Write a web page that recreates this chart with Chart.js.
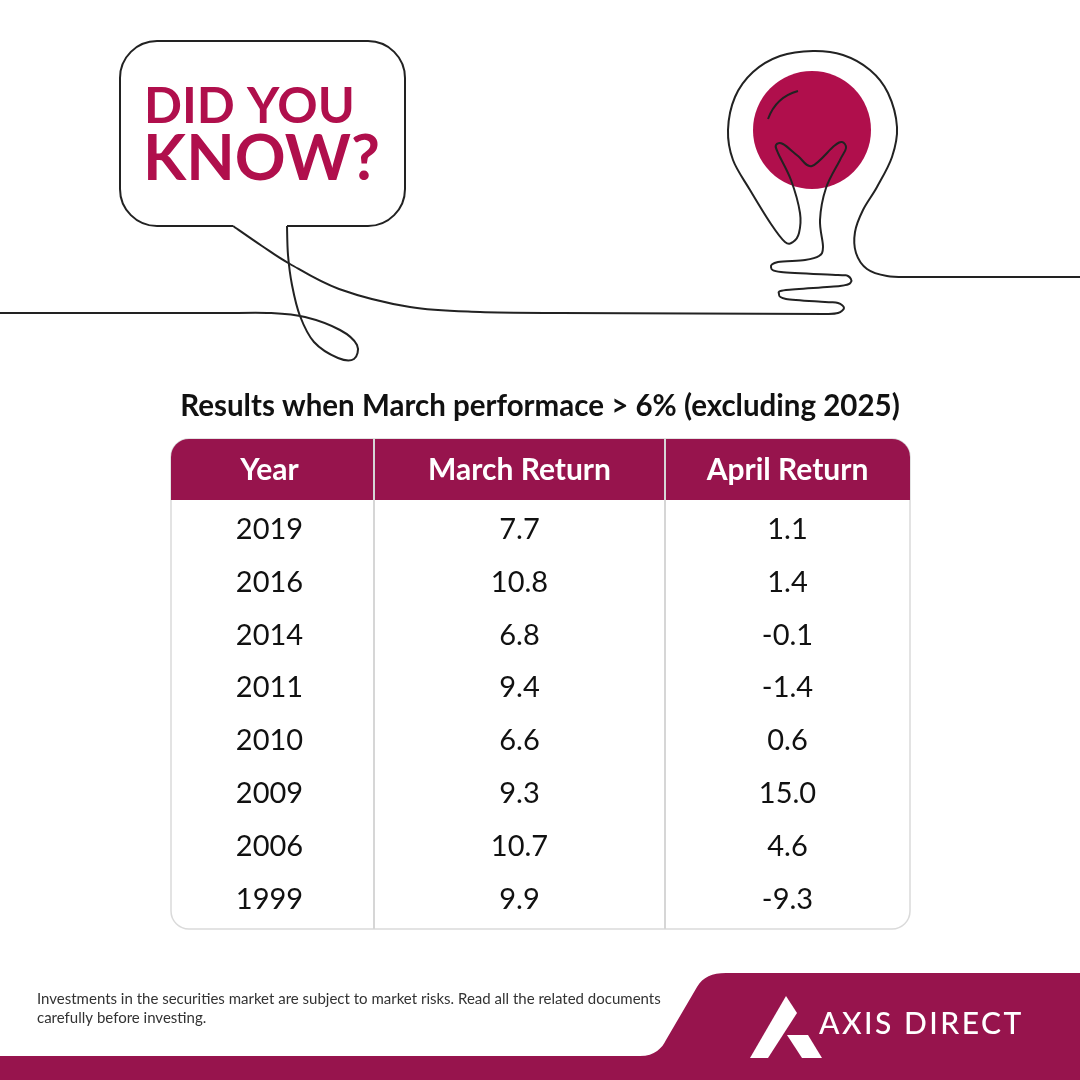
<!DOCTYPE html>
<html lang="en">
<head>
    <meta charset="UTF-8">
    <title>Did You Know - March vs April Returns</title>
    <script src="https://cdn.jsdelivr.net/npm/chart.js@4.4.1/dist/chart.umd.min.js"></script>
    <style>
        body {
            margin: 0;
            padding: 0;
            background: #fff;
        }

        #chart-container {
            width: 1080px;
            height: 1080px;
        }
    </style>
</head>
<body>
    <div id="chart-container">
        <canvas id="myChart"></canvas>
    </div>

    <script>
        // Table data
        const years = ['2019', '2016', '2014', '2011', '2010', '2009', '2006', '1999'];
        const marchReturn = [7.7, 10.8, 6.8, 9.4, 6.6, 9.3, 10.7, 9.9];
        const aprilReturn = [1.1, 1.4, -0.1, -1.4, 0.6, 15.0, 4.6, -9.3];
        const columnHeaders = ['Year', 'March Return', 'April Return'];

        const MAROON = '#97144d';
        const CRIMSON = '#b00f4c';
        const INK = '#222';

        // column edges in table units (table is 739px wide)
        const COL_EDGES = [0, 203, 494, 739];
        const colMid = i => (COL_EDGES[i] + COL_EDGES[i + 1]) / 2;

        const TABLE_TOP = 439;
        const HEADER_BOTTOM = 500;
        const TABLE_BOTTOM = 929;

        // smooth curve through points (catmull-rom)
        function smooth(ctx, pts, move = true) {
            if (move) ctx.moveTo(pts[0][0], pts[0][1]);
            for (let i = 0; i < pts.length - 1; i++) {
                const p0 = pts[i - 1] || pts[i], p1 = pts[i], p2 = pts[i + 1], p3 = pts[i + 2] || p2;
                ctx.bezierCurveTo(
                    p1[0] + (p2[0] - p0[0]) / 6, p1[1] + (p2[1] - p0[1]) / 6,
                    p2[0] - (p3[0] - p1[0]) / 6, p2[1] - (p3[1] - p1[1]) / 6,
                    p2[0], p2[1]
                );
            }
        }

        function roundRect(ctx, x, y, w, h, r) {
            ctx.beginPath();
            ctx.moveTo(x + r, y);
            ctx.arcTo(x + w, y, x + w, y + h, r);
            ctx.arcTo(x + w, y + h, x, y + h, r);
            ctx.arcTo(x, y + h, x, y, r);
            ctx.arcTo(x, y, x + w, y, r);
            ctx.closePath();
        }

        const decorPlugin = {
            id: 'decor',
            beforeDraw(chart) {
                const ctx = chart.ctx;
                const xs = chart.scales.x;
                const left = chart.chartArea.left, right = chart.chartArea.right;
                ctx.save();
                ctx.fillStyle = '#fff';
                ctx.fillRect(0, 0, chart.width, chart.height);

                // speech bubble
                ctx.strokeStyle = INK;
                ctx.lineWidth = 2;
                ctx.lineJoin = 'round';
                ctx.beginPath();
                ctx.moveTo(287, 226);
                ctx.arcTo(405, 226, 405, 41, 37);
                ctx.arcTo(405, 41, 120, 41, 37);
                ctx.arcTo(120, 41, 120, 226, 37);
                ctx.arcTo(120, 226, 405, 226, 37);
                ctx.lineTo(233, 226);
                ctx.stroke();

                // left line with loop up into bubble
                ctx.beginPath();
                ctx.moveTo(0, 313);
                ctx.lineTo(230, 313);
                smooth(ctx, [[230, 313], [270, 313], [305, 317], [340, 330], [357, 345], [354, 359],
                    [338, 358], [314, 342], [300, 316], [292, 285], [288, 255], [287, 226]], false);
                ctx.stroke();

                // bulb fill
                ctx.fillStyle = CRIMSON;
                ctx.beginPath();
                ctx.arc(812, 130, 59, 0, Math.PI * 2);
                ctx.fill();

                // tail -> long line -> coil -> bulb -> right line
                ctx.beginPath();
                smooth(ctx, [[233, 226], [262, 246], [290, 264], [339, 289], [410, 307], [480, 312], [560, 313]]);
                ctx.lineTo(826, 314);
                smooth(ctx, [[826, 314], [838, 313], [844, 308], [838, 303], [825, 302], [786, 299],
                    [779, 294], [786, 290], [840, 286], [851, 282], [848, 276], [838, 275], [781, 272],
                    [771, 267], [778, 262], [805, 260], [819, 256], [823, 247], [820, 220], [826, 188],
                    [840, 160], [846, 148], [842, 142], [834, 146], [812, 166], [798, 156], [783, 144],
                    [776, 145], [778, 153], [791, 180], [800, 213], [799, 233], [793, 242], [785, 242],
                    [771, 224], [750, 190], [733, 160], [728, 130], [735, 97], [753, 72], [780, 56],
                    [813, 51], [843, 55], [870, 70], [888, 93], [897, 127], [892, 157], [877, 187],
                    [863, 210], [855, 232], [856, 253], [867, 269], [887, 276], [913, 277], [960, 277]], false);
                ctx.lineTo(1080, 277);
                ctx.stroke();

                // bulb highlight
                ctx.beginPath();
                ctx.moveTo(768, 119);
                ctx.quadraticCurveTo(776, 97, 798, 91);
                ctx.stroke();

                // DID YOU KNOW?
                ctx.fillStyle = CRIMSON;
                ctx.textAlign = 'left';
                ctx.textBaseline = 'alphabetic';
                ctx.font = 'bold 50px Lato';
                ctx.fillText('DID YOU', 144, 123);
                ctx.font = 'bold 63px Lato';
                ctx.fillText('KNOW?', 143, 180);

                // title
                ctx.fillStyle = '#111';
                ctx.textAlign = 'center';
                ctx.textBaseline = 'middle';
                ctx.font = 'bold 29.5px Lato';
                ctx.fillText('Results when March performace > 6% (excluding 2025)', 540, 406);

                // table box
                roundRect(ctx, left, TABLE_TOP, right - left, TABLE_BOTTOM - TABLE_TOP, 18);
                ctx.fillStyle = '#fff';
                ctx.fill();
                ctx.strokeStyle = '#dadada';
                ctx.lineWidth = 1.5;
                ctx.stroke();

                // header band
                ctx.beginPath();
                ctx.moveTo(left, HEADER_BOTTOM);
                ctx.arcTo(left, TABLE_TOP, right, TABLE_TOP, 18);
                ctx.arcTo(right, TABLE_TOP, right, HEADER_BOTTOM, 18);
                ctx.lineTo(right, HEADER_BOTTOM);
                ctx.closePath();
                ctx.fillStyle = MAROON;
                ctx.fill();

                // column dividers at column edges
                ctx.strokeStyle = '#d6d6d6';
                ctx.lineWidth = 2;
                [COL_EDGES[1], COL_EDGES[2]].forEach(e => {
                    const px = xs.getPixelForValue(e);
                    ctx.beginPath();
                    ctx.moveTo(px, TABLE_TOP);
                    ctx.lineTo(px, TABLE_BOTTOM);
                    ctx.stroke();
                });

                // header labels
                ctx.fillStyle = '#fff';
                ctx.font = 'bold 30px Lato';
                columnHeaders.forEach((h, i) => {
                    ctx.fillText(h, xs.getPixelForValue(colMid(i)) - (i === 0 ? 3 : 0), (TABLE_TOP + HEADER_BOTTOM) / 2 + 1);
                });

                // footer
                ctx.fillStyle = MAROON;
                ctx.beginPath();
                ctx.moveTo(0, 1056);
                ctx.lineTo(640, 1056);
                ctx.bezierCurveTo(655, 1056, 662, 1048, 666, 1040);
                ctx.lineTo(697, 987);
                ctx.bezierCurveTo(703, 977, 712, 973, 726, 973);
                ctx.lineTo(1080, 973);
                ctx.lineTo(1080, 1080);
                ctx.lineTo(0, 1080);
                ctx.closePath();
                ctx.fill();

                ctx.fillStyle = '#333';
                ctx.textAlign = 'left';
                ctx.font = '15px Lato';
                ctx.fillText('Investments in the securities market are subject to market risks. Read all the related documents', 37, 999);
                ctx.fillText('carefully before investing.', 37, 1018);

                // logo
                ctx.fillStyle = '#fff';
                ctx.beginPath();
                ctx.moveTo(786, 996);
                ctx.lineTo(797, 1013);
                ctx.lineTo(768, 1058);
                ctx.lineTo(750, 1058);
                ctx.closePath();
                ctx.fill();
                ctx.beginPath();
                ctx.moveTo(787, 1035);
                ctx.lineTo(808, 1035);
                ctx.lineTo(822, 1058);
                ctx.lineTo(802, 1058);
                ctx.closePath();
                ctx.fill();
                ctx.textBaseline = 'alphabetic';
                ctx.font = '500 30px Lato';
                ctx.letterSpacing = '2.5px';
                ctx.fillText('AXIS DIRECT', 819, 1034);
                ctx.letterSpacing = '0px';
                ctx.restore();
            },
            afterDatasetsDraw(chart) {
                const ctx = chart.ctx;
                ctx.save();
                ctx.fillStyle = '#111';
                ctx.font = '29px Lato';
                ctx.textAlign = 'center';
                ctx.textBaseline = 'middle';
                chart.data.datasets.forEach((ds, di) => {
                    const meta = chart.getDatasetMeta(di);
                    meta.data.forEach((pt, i) => {
                        ctx.fillText(ds.data[i].text, pt.x - (di === 0 ? 3 : 0), pt.y + 1);
                    });
                });
                ctx.restore();
            }
        };

        const columns = [
            years,
            marchReturn.map(v => v.toFixed(1)),
            aprilReturn.map(v => v.toFixed(1))
        ];

        const ctx = document.getElementById('myChart').getContext('2d');
        const myChart = new Chart(ctx, {
            type: 'scatter',
            data: {
                labels: years,
                datasets: columnHeaders.map((h, c) => ({
                    label: h,
                    data: years.map((y, i) => ({ x: colMid(c), y: y, text: columns[c][i] })),
                    pointRadius: 0,
                    pointHoverRadius: 0
                }))
            },
            options: {
                responsive: true,
                maintainAspectRatio: false,
                animation: false,
                layout: {
                    padding: { top: 502, bottom: 155, left: 171, right: 170 }
                },
                scales: {
                    x: {
                        type: 'linear',
                        min: COL_EDGES[0],
                        max: COL_EDGES[3],
                        display: false
                    },
                    y: {
                        type: 'category',
                        labels: years,
                        offset: true,
                        display: false
                    }
                },
                plugins: {
                    legend: { display: false },
                    tooltip: { enabled: false }
                }
            },
            plugins: [decorPlugin]
        });
    </script>
</body>
</html>
